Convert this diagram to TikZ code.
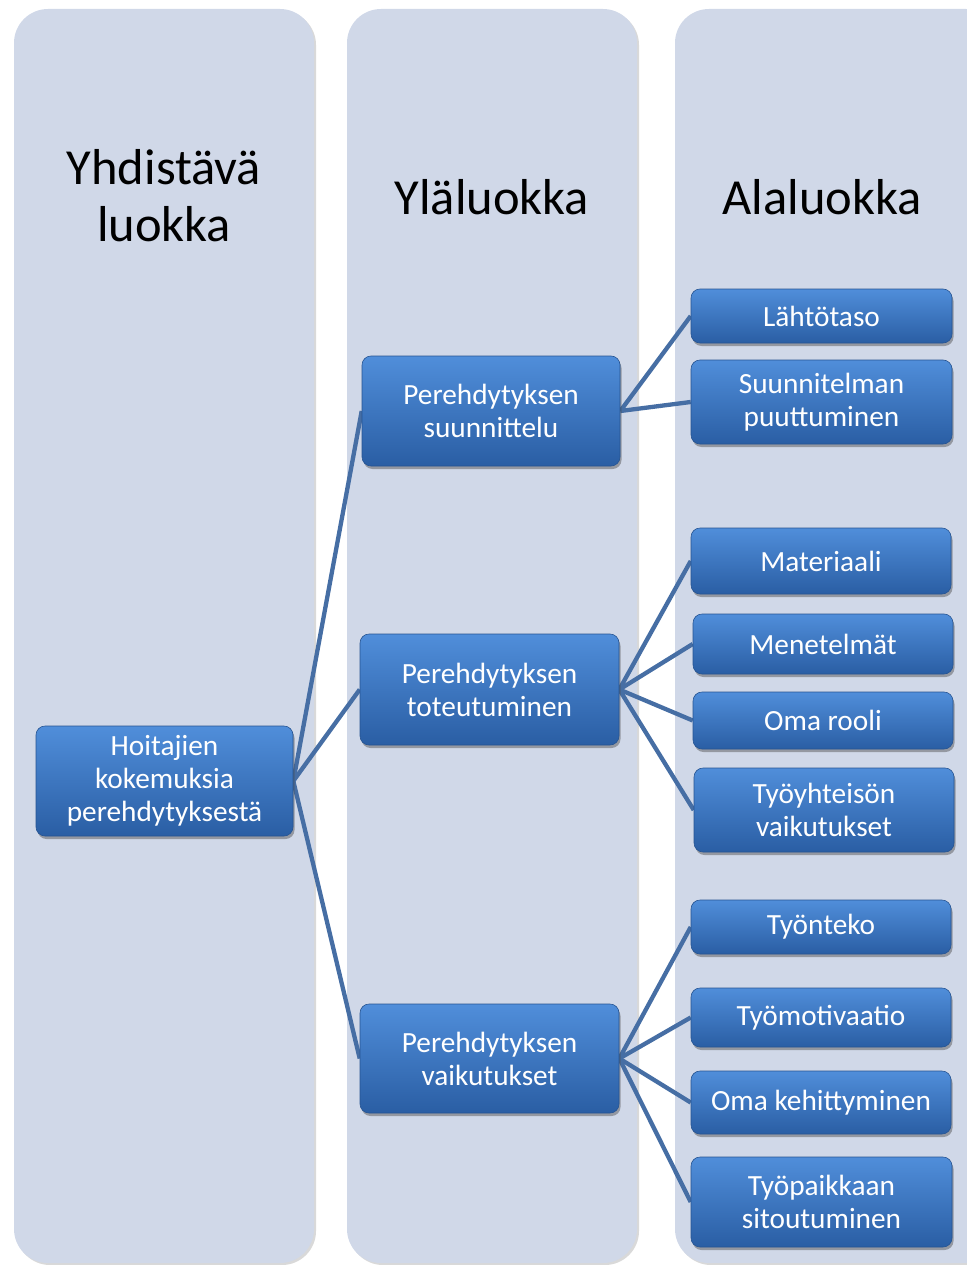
\documentclass[tikz,border=0pt]{standalone}
\usepackage{fontspec}
\setmainfont{Carlito}
\usetikzlibrary{shadows}
\definecolor{colfill}{RGB}{208,216,232}
\definecolor{boxtop}{RGB}{80,142,218}
\definecolor{boxbot}{RGB}{42,94,164}
\definecolor{boxedge}{RGB}{38,84,146}
\definecolor{linkcol}{RGB}{70,110,164}
\pgfdeclarelayer{back}
\pgfdeclarelayer{background}
\pgfsetlayers{back,background,main}
\tikzset{
  column/.style={fill=colfill, rounded corners=34pt,
     drop shadow={shadow xshift=2pt, shadow yshift=-2pt, opacity=0.25, fill=black!60}},
  coltitle/.style={font=\fontsize{50.5}{57}\selectfont, align=center, text=black},
  bluebox/.style={rectangle, rounded corners=9pt, top color=boxtop, bottom color=boxbot,
     draw=boxedge, line width=0.6pt, text=white, align=center, inner sep=0pt,
     font=\fontsize{29.3}{33}\selectfont,
     drop shadow={shadow xshift=1.5pt, shadow yshift=-3pt, opacity=0.45, fill=black!70}},
  link/.style={draw=linkcol, line width=4.3pt}
}
\begin{document}
\begin{tikzpicture}[x=1pt,y=-1pt]
\useasboundingbox (0,0) rectangle (966,1265);
% nodes
\node[bluebox, minimum width=257pt, minimum height=110pt] (root) at (164.5,781) {Hoitajien\\kokemuksia\\perehdytyksestä};
\node[bluebox, minimum width=258pt, minimum height=110pt] (p1) at (491,411) {Perehdytyksen\\suunnittelu};
\node[bluebox, minimum width=259pt, minimum height=111pt] (p2) at (489.5,689.5) {Perehdytyksen\\toteutuminen};
\node[bluebox, minimum width=259pt, minimum height=109pt] (p3) at (489.5,1058.5) {Perehdytyksen\\vaikutukset};
\node[bluebox, minimum width=261pt, minimum height=54pt] (l1) at (821.5,316) {Lähtötaso};
\node[bluebox, minimum width=261pt, minimum height=84pt] (l2) at (821.5,402) {Suunnitelman\\puuttuminen};
\node[bluebox, minimum width=260pt, minimum height=66pt] (m1) at (821,561) {Materiaali};
\node[bluebox, minimum width=260pt, minimum height=60pt] (m2) at (823,644) {Menetelmät};
\node[bluebox, minimum width=260pt, minimum height=57pt] (m3) at (823,720.5) {Oma rooli};
\node[bluebox, minimum width=260pt, minimum height=84pt] (m4) at (824,810) {Työyhteisön\\vaikutukset};
\node[bluebox, minimum width=260pt, minimum height=54pt] (v1) at (821,927) {Työnteko};
\node[bluebox, minimum width=260pt, minimum height=59pt] (v2) at (821,1017.5) {Työmotivaatio};
\node[bluebox, minimum width=260pt, minimum height=63pt] (v3) at (821,1102.5) {Oma kehittyminen};
\node[bluebox, minimum width=261pt, minimum height=90pt] (v4) at (821.5,1202) {Työpaikkaan\\sitoutuminen};
% columns
\begin{pgfonlayer}{back}
\path[column] (14,9) rectangle (314,1263);
\path[column] (347,9) rectangle (637,1263);
\path[column] (675,9) rectangle (1000,1263);
\end{pgfonlayer}
\node[coltitle] (t1) at (164,196) {Yhdistävä\\luokka};
\node[coltitle] (t2) at (492,197) {Yläluokka};
\node[coltitle] (t3) at (822,197) {Alaluokka};
% connectors
\begin{pgfonlayer}{background}
\draw[link] (root.east) -- (p1.west);
\draw[link] (root.east) -- (p2.west);
\draw[link] (root.east) -- (p3.west);
\draw[link] (p1.east) -- (l1.west);
\draw[link] (p1.east) -- (l2.west);
\draw[link] (p2.east) -- (m1.west);
\draw[link] (p2.east) -- (m2.west);
\draw[link] (p2.east) -- (m3.west);
\draw[link] (p2.east) -- (m4.west);
\draw[link] (p3.east) -- (v1.west);
\draw[link] (p3.east) -- (v2.west);
\draw[link] (p3.east) -- (v3.west);
\draw[link] (p3.east) -- (v4.west);
\end{pgfonlayer}
\end{tikzpicture}
\end{document}
